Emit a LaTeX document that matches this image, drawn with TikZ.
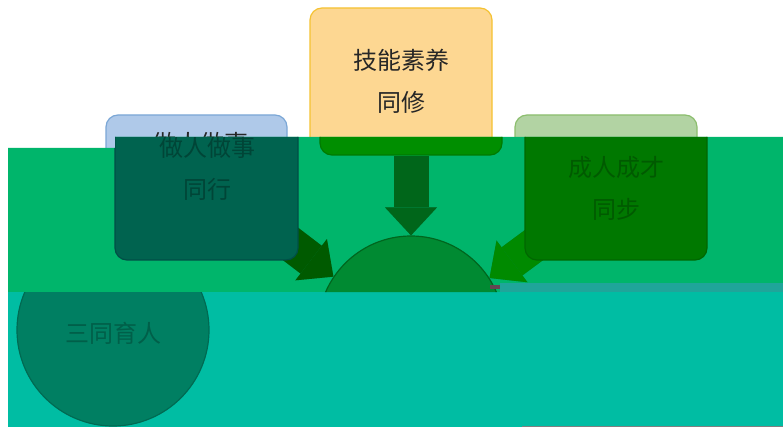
\documentclass[tikz,border=0pt]{standalone}
\usepackage{fontspec}
\newfontfamily\cjk{Noto Sans CJK SC}
\usetikzlibrary{arrows.meta}
\pgfdeclarelayer{back}
\pgfdeclarelayer{mid}
\pgfsetlayers{back,mid,main}
\definecolor{bandgreen}{HTML}{00B56B}
\definecolor{bandteal}{HTML}{00BDA3}
\definecolor{lblue}{HTML}{AFC9E9}
\definecolor{lblueline}{HTML}{7BA7D6}
\definecolor{lorange}{HTML}{FDD792}
\definecolor{lorangeline}{HTML}{F5C232}
\definecolor{lgreen}{HTML}{B2D3A3}
\definecolor{lgreenline}{HTML}{8CBE6E}
\definecolor{dteal}{HTML}{00634F}
\definecolor{dtealline}{HTML}{004F46}
\definecolor{dorange}{HTML}{008E00}
\definecolor{dorangeline}{HTML}{007A00}
\definecolor{dgreen}{HTML}{007800}
\definecolor{dgreenline}{HTML}{006700}
\definecolor{dcircle}{HTML}{008A32}
\definecolor{dcircleline}{HTML}{00661E}
\definecolor{bcircle}{HTML}{007F62}
\definecolor{bcircleline}{HTML}{006A52}
\definecolor{arrdown}{HTML}{00661A}
\definecolor{arrleft}{HTML}{005A00}
\definecolor{arrright}{HTML}{008A00}
\definecolor{noise}{HTML}{1FA59A}
\tikzset{
  box/.style={rectangle, rounded corners=12pt, line width=1.2pt, inner sep=0pt},
  ring/.style={circle, line width=1.2pt, inner sep=0pt},
  label/.style={font=\cjk\fontsize{24}{42}\selectfont, align=center, inner sep=0pt},
  blockarrow/.style={line width=35pt, -{Triangle[width=52pt,length=28pt,line width=0pt]}},
  arrowshade/.style={blockarrow, black, opacity=0.12}
}
\begin{document}
\begin{tikzpicture}[x=1pt,y=-1pt]
\useasboundingbox (0,0) rectangle (783,427);
% ---------- background and top (undisturbed) layer ----------
\begin{pgfonlayer}{back}
\fill[white] (0,0) rectangle (783,427);
\begin{scope}
  \clip (0,0) -- (783,0) -- (783,137) -- (115,137) -- (115,148) -- (0,148) -- cycle;
  \node[box, fill=lblue, draw=lblueline, minimum width=181pt, minimum height=145pt] (ubox) at (196.5,187.5) {};
  \node[box, fill=lorange, draw=lorangeline, minimum width=182pt, minimum height=147pt] (tbox) at (401,81.5) {};
  \node[box, fill=lgreen, draw=lgreenline, minimum width=182pt, minimum height=145pt] (gtop) at (606,187.5) {};
  \node[label, text=black!85] (ttext) at (401,81.5) {技能素养\\同修};
  \node[label, text=black!85] (utext) at (200,143) {做人做事};
\end{scope}
\fill[bandgreen] (8,148) -- (115,148) -- (115,137) -- (783,137) -- (783,292) -- (8,292) -- cycle;
\fill[bandteal] (8,292) rectangle (783,427);
\end{pgfonlayer}
% ---------- green band ----------
\begin{scope}
  \clip (8,148) -- (115,148) -- (115,137) -- (783,137) -- (783,292) -- (8,292) -- cycle;
  \node[box, fill=dteal, draw=dtealline, minimum width=183pt, minimum height=145pt] (bbox) at (206.5,187.5) {};
  \node[box, fill=dorange, draw=dorangeline, minimum width=182pt, minimum height=147pt] (obox) at (411,81.5) {};
  \node[box, fill=dgreen, draw=dgreenline, minimum width=182pt, minimum height=145pt] (gbox) at (616,187.5) {};
  \node[ring, fill=dcircle, draw=dcircleline, minimum size=186pt] (circ) at (411,329) {};
  \node[label, text=dteal!70!black] (btext) at (207,168) {做人做事\\同行};
  \node[label, text=dgreen!75!black] (gtext) at (616,188.5) {成人成才\\同步};
\end{scope}
% ---------- arrows (behind the boxes) ----------
\coordinate (ls) at (271,229);
\coordinate (rs) at (553,231);
\begin{pgfonlayer}{mid}
\begin{scope}
  \clip (8,137) rectangle (783,292);
  \begin{scope}[shift={(2,4)}]
    \draw[arrowshade] (obox.south) -- (circ.north);
    \draw[arrowshade] (ls) -- (circ.146);
    \draw[arrowshade] (rs) -- (circ.33);
  \end{scope}
  \begin{scope}[shift={(4,6)}]
    \draw[arrowshade] (obox.south) -- (circ.north);
    \draw[arrowshade] (ls) -- (circ.146);
    \draw[arrowshade] (rs) -- (circ.33);
  \end{scope}
\end{scope}
\draw[blockarrow, arrdown] (obox.south) -- (circ.north);
\draw[blockarrow, arrleft] (ls) -- (circ.146);
\draw[blockarrow, arrright] (rs) -- (circ.33);
\end{pgfonlayer}
% ---------- teal band ----------
\begin{scope}
  \clip (8,292) rectangle (783,427);
  \node[ring, fill=bcircle, draw=bcircleline, minimum size=192pt] (scirc) at (113,330) {};
  \node[label, text=bcircle!75!black] (stext) at (113,333) {三同育人};
\end{scope}
% ---------- glitch strip and bottom line ----------
\fill[noise] (500,283) rectangle (783,292);
\fill[black!70!magenta] (490,285) rectangle (500,289);
\draw[gray, line width=1pt] (522,426.5) -- (783,426.5);
\end{tikzpicture}
\end{document}
